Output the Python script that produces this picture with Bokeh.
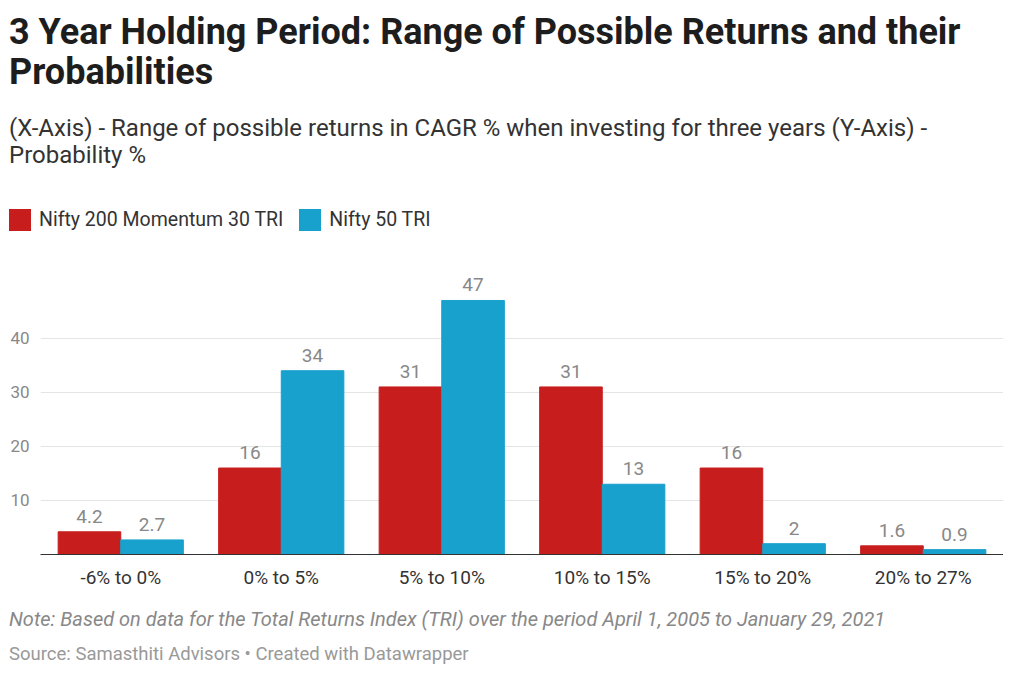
from bokeh.plotting import figure
from bokeh.models import ColumnDataSource, Div, FixedTicker, LabelSet
from bokeh.core.properties import value
from bokeh.layouts import column
from bokeh.embed import file_html
from bokeh.resources import INLINE

categories = ["-6% to 0%", "0% to 5%", "5% to 10%", "10% to 15%", "15% to 20%", "20% to 27%"]
momentum = [4.2, 16, 31, 31, 16, 1.6]
nifty50 = [2.7, 34, 47, 13, 2, 0.9]
labels_m = ["4.2", "16", "31", "31", "16", "1.6"]
labels_n = ["2.7", "34", "47", "13", "2", "0.9"]

RED = "#c71e1d"
BLUE = "#18a1cd"
FONT = "Roboto"

idx = list(range(len(categories)))
src_m = ColumnDataSource(dict(x=[i - 0.195 for i in idx], y=momentum, t=labels_m))
src_n = ColumnDataSource(dict(x=[i + 0.195 for i in idx], y=nifty50, t=labels_n))

base = {"font-family": FONT, "margin-left": "9px"}
title = Div(text="3 Year Holding Period: Range of Possible Returns and their Probabilities",
            width=990, styles={**base, "font-size": "36px", "font-weight": "bold",
                               "line-height": "40px", "color": "#1d1d1d", "margin-top": "12px"})
subtitle = Div(text="(X-Axis) - Range of possible returns in CAGR % when investing for three years (Y-Axis) - Probability %",
               width=990, styles={**base, "font-size": "24px", "line-height": "27px",
                                  "color": "#333", "margin-top": "18px"})
sq = "display:inline-block;width:22px;height:22px;vertical-align:-5px;margin-right:8px;"
legend = Div(text=f'<span style="{sq}background:{RED}"></span>Nifty 200 Momentum 30 TRI'
                  f'<span style="{sq}background:{BLUE};margin-left:16px"></span>Nifty 50 TRI',
             width=990, styles={**base, "font-size": "19.5px", "line-height": "24px", "color": "#333",
                                "margin-top": "34px"})

p = figure(width=1003, height=357, x_range=(-0.5, 5.5), y_range=(0, 53.1),
           output_backend="svg", toolbar_location=None,
           min_border_left=40, min_border_right=0, min_border_top=30, min_border_bottom=40)
p.outline_line_color = None
p.xgrid.grid_line_color = None
p.ygrid.grid_line_color = "#e5e5e5"
p.ygrid.ticker = FixedTicker(ticks=[10, 20, 30, 40])

p.vbar(x="x", top="y", width=0.39, source=src_m, color=RED)
p.vbar(x="x", top="y", width=0.39, source=src_n, color=BLUE)
for s in (src_m, src_n):
    p.add_layout(LabelSet(x="x", y="y", text="t", source=s, y_offset=9, text_align="center",
                          text_font=value(FONT), text_font_size="19px", text_color="#888"))

p.yaxis.ticker = FixedTicker(ticks=[10, 20, 30, 40])
p.yaxis.axis_line_color = None
p.yaxis.major_tick_line_color = None
p.yaxis.minor_tick_line_color = None
p.yaxis.major_label_text_font = FONT
p.yaxis.major_label_text_font_size = "17px"
p.yaxis.major_label_text_color = "#888"

p.xaxis.ticker = FixedTicker(ticks=idx)
p.xaxis.major_label_overrides = {i: c for i, c in enumerate(categories)}
p.xaxis.axis_line_color = "#333"
p.xaxis.major_tick_line_color = None
p.xaxis.minor_tick_line_color = None
p.xaxis.major_label_text_font = FONT
p.xaxis.major_label_text_font_size = "19px"
p.xaxis.major_label_text_color = "#333"

note = Div(text="<i>Note: Based on data for the Total Returns Index (TRI) over the period April 1, 2005 to January 29, 2021</i>",
           width=990, styles={**base, "font-size": "20px", "line-height": "24px", "color": "#888",
                              "margin-top": "13px"})
source = Div(text="Source: Samasthiti Advisors • Created with Datawrapper",
             width=990, styles={**base, "font-size": "18.5px", "line-height": "22px", "color": "#999",
                                "margin-top": "7px"})

layout = column(title, subtitle, legend, p, note, source, spacing=0)
open("out.html", "w").write(file_html(layout, INLINE))
